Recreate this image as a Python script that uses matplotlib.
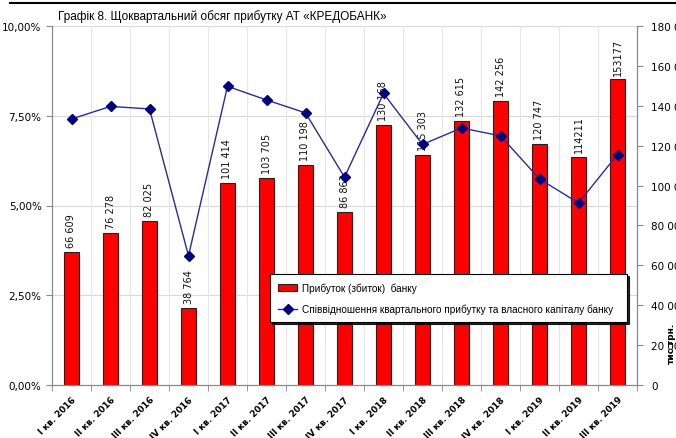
import matplotlib.pyplot as plt
import numpy as np
from matplotlib.ticker import FuncFormatter, MultipleLocator

quarters = ['I кв. 2016', 'II кв. 2016', 'III кв. 2016', 'IV кв. 2016',
            'I кв. 2017', 'II кв. 2017', 'III кв. 2017', 'IV кв. 2017',
            'I кв. 2018', 'II кв. 2018', 'III кв. 2018', 'IV кв. 2018',
            'I кв. 2019', 'II кв. 2019', 'III кв. 2019']
profit = [66609, 76278, 82025, 38764, 101414, 103705, 110198, 86863,
          130168, 115303, 132615, 142256, 120747, 114211, 153177]
profit_labels = ['66 609', '76 278', '82 025', '38 764', '101 414', '103 705',
                 '110 198', '86 863', '130 168', '115 303', '132 615', '142 256',
                 '120 747', '114211', '153177']
ratio = [7.41, 7.76, 7.69, 3.60, 8.32, 7.94, 7.58, 5.79,
         8.12, 6.70, 7.16, 6.94, 5.74, 5.07, 6.42]

plt.rcParams['font.family'] = ['DejaVu Sans']

fig = plt.figure(figsize=(6.76, 4.39), dpi=100)
ax = fig.add_axes([52/676, 1 - 386/439, 585/676, 359/439])
ax2 = ax.twinx()

x = np.arange(len(quarters))

# grid (behind bars)
for gy in [2.5, 5, 7.5, 10]:
    ax2.axhline(gy * 18000, color='#d9d9d9', lw=0.8, zorder=0)
for gx in np.arange(0.5, len(quarters) - 0.5, 1):
    ax2.axvline(gx, color='#e6e6e6', lw=0.8, zorder=0)

# bars on the right axis (тис. грн.)
bars = ax2.bar(x, profit, width=0.41, color='#ff0000', edgecolor='#222222',
               linewidth=0.8, zorder=2, label='Прибуток (збиток)  банку')
for xi, v, lab in zip(x, profit, profit_labels):
    ax2.text(xi, v + 2500, lab, rotation=90, ha='center', va='bottom',
             fontsize=7, color='#111111', zorder=3)
ax2.set_ylim(0, 180000)
ax2.yaxis.set_major_locator(MultipleLocator(20000))
ax2.yaxis.set_major_formatter(FuncFormatter(lambda v, p: f'{int(v):,}'.replace(',', ' ')))
ax2.tick_params(axis='y', labelsize=7.5, length=4, color='#888888', pad=6)

# ratio line on the left axis (%)
line, = ax.plot(x, ratio, color='#2b2b9a', lw=1, marker='D', markersize=5,
                markerfacecolor='#000080', markeredgecolor='#000080',
                label='Співвідношення квартального прибутку та власного капіталу банку')
ax.set_ylim(0, 10)
ax.set_xlim(-0.5, len(quarters) - 0.5)
ax.yaxis.set_major_locator(MultipleLocator(2.5))
ax.yaxis.set_major_formatter(FuncFormatter(lambda v, p: f'{v:.2f}%'.replace('.', ',')))
ax.tick_params(axis='y', labelsize=7.5, length=4, color='#888888')

ax.set_xticks(x)
ax.set_xticklabels(quarters, rotation=45, ha='right', rotation_mode='anchor',
                   fontsize=6.3, fontweight='bold')
ax.tick_params(axis='x', length=0, pad=7)
ax.set_xticks(np.arange(-0.5, len(quarters), 1), minor=True)
ax.tick_params(axis='x', which='minor', length=4, color='#888888')

for a in (ax, ax2):
    a.spines['top'].set_visible(False)
    a.spines['left'].set_color('#888888')
    a.spines['right'].set_color('#888888')
    a.spines['bottom'].set_color('#888888')

# line above bars
ax.set_zorder(ax2.get_zorder() + 1)
ax.patch.set_visible(False)

ax2.text(1.058, 0.12, 'тис.грн.', transform=ax2.transAxes, rotation=90,
         ha='center', va='center', fontsize=6.5, fontweight='bold')

# legend
leg = ax.legend([bars, line], [bars.get_label(), line.get_label()],
                loc='lower left', bbox_to_anchor=(218/585, 63/359, 357/585, 48/359),
                mode='expand', frameon=True, fancybox=False,
                shadow={'color': 'black', 'alpha': 0.85, 'ox': 1.5, 'oy': -1.5},
                labelspacing=1.1, handlelength=1.9, handletextpad=0.5,
                borderpad=0.8, borderaxespad=0,
                prop={'family': 'Liberation Sans', 'size': 7.2})
leg.get_frame().set_edgecolor('black')
leg.get_frame().set_linewidth(0.8)
leg.set_zorder(10)

fig.text(58/676, 1 - 17/439, 'Графік 8. Щоквартальний обсяг прибутку АТ «КРЕДОБАНК»',
         fontsize=8.5, family='Liberation Sans', va='center', ha='left')
fig.add_artist(plt.Line2D([10/676, 1], [1 - 4/439, 1 - 4/439], color='black', lw=1.5))

fig.savefig('out.png', dpi=100, facecolor='white')
